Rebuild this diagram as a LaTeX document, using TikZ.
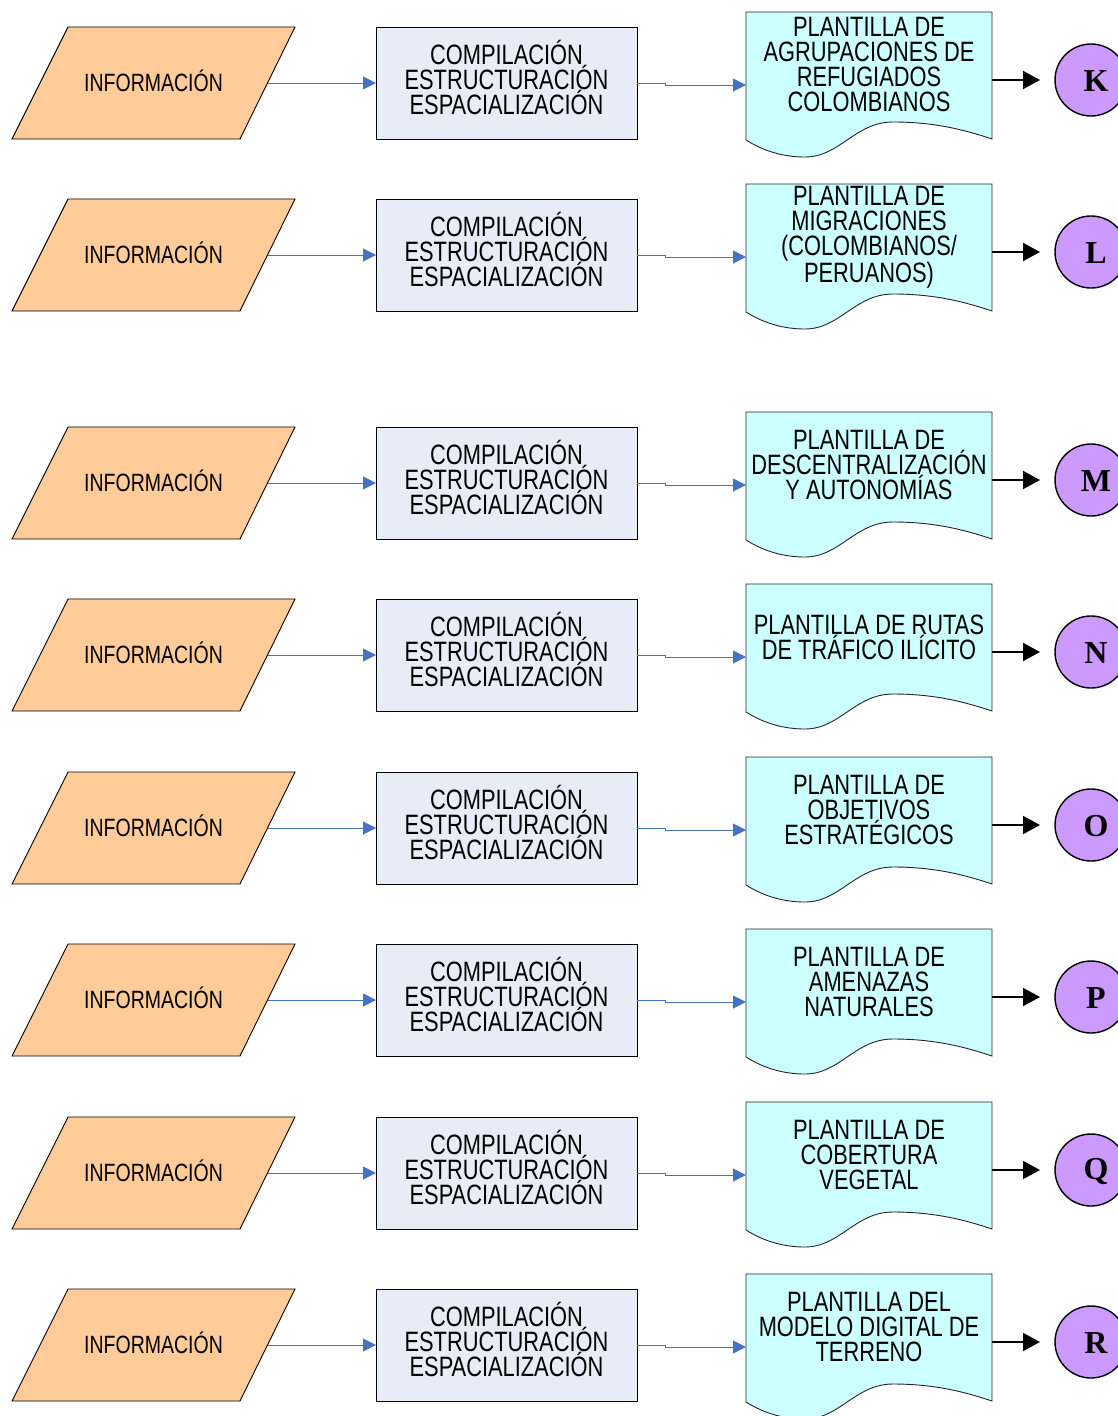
\documentclass[tikz,border=0pt]{standalone}
\usepackage{fontspec}
\setmainfont{Liberation Sans}
\newfontfamily\nar{Liberation Sans}[FakeStretch=0.78]
\newfontfamily\serb{Liberation Serif}
\usetikzlibrary{arrows.meta,calc}
\definecolor{paraF}{RGB}{255,204,153}
\definecolor{rectF}{RGB}{231,236,247}
\definecolor{docF}{RGB}{204,255,255}
\definecolor{circF}{RGB}{204,153,255}
\definecolor{flow}{RGB}{68,114,196}
\tikzset{
  paraline/.style={draw=black, line width=0.9, fill=paraF},
  paratext/.style={inner sep=0, font=\nar\fontsize{25}{25}\selectfont},
  procbox/.style={rectangle, minimum width=261, minimum height=112, inner sep=0,
    outer sep=0, draw=black, line width=0.9, fill=rectF},
  proctext/.style={align=center, inner sep=0, font=\nar\fontsize{28}{25}\selectfont},
  docbox/.style={rectangle, minimum width=246, minimum height=128, inner sep=0, outer sep=0},
  docline/.style={draw=black!85, line width=0.9, fill=docF},
  doctext/.style={align=center, inner sep=0, font=\nar\fontsize{28}{25}\selectfont},
  circ/.style={circle, minimum size=72, inner sep=0, outer sep=0, draw=black, line width=1.4, fill=circF},
  lett/.style={inner sep=0, font=\serb\bfseries\fontsize{32}{32}\selectfont},
  flowarrow/.style={draw=flow, line width=1, -{Triangle[length=13pt,width=13pt]}},
  outarrow/.style={draw=black, line width=2, -{Triangle[length=17pt,width=18pt]}},
}
\begin{document}
\begin{tikzpicture}[x=1pt,y=-1pt]
\useasboundingbox (0,0) rectangle (1118,1416);
\clip (0,0) rectangle (1118,1416);
\fill[white] (0,0) rectangle (1118,1416);
\foreach \c/\t/\l in {
  83/{PLANTILLA DE\\AGRUPACIONES DE\\REFUGIADOS\\COLOMBIANOS}/K,
  255/{PLANTILLA DE\\MIGRACIONES\\(COLOMBIANOS/\\PERUANOS)}/L,
  483/{PLANTILLA DE\\DESCENTRALIZACIÓN\\Y AUTONOMÍAS}/M,
  655/{PLANTILLA DE RUTAS\\DE TRÁFICO ILÍCITO}/N,
  828/{PLANTILLA DE\\OBJETIVOS\\ESTRATÉGICOS}/O,
  1000/{PLANTILLA DE\\AMENAZAS\\NATURALES}/P,
  1173/{PLANTILLA DE\\COBERTURA\\VEGETAL}/Q,
  1345/{PLANTILLA DEL\\MODELO DIGITAL DE\\TERRENO}/R}{
  % input parallelogram
  \path[paraline] (68,\c-56) -- (295,\c-56) -- (240,\c+56) -- (12,\c+56) -- cycle;
  \node[paratext] (p\l) at (153.5,\c-2) {INFORMACIÓN};
  \coordinate (pe\l) at (267.5,\c);
  % process box
  \node[procbox] (r\l) at (506.5,\c) {};
  \node[proctext] (rt\l) at (506.5,\c-6) {COMPILACIÓN\\ESTRUCTURACIÓN\\ESPACIALIZACIÓN};
  % document
  \node[docbox] (d\l) at (869,\c-7) {};
  \path[docline] (746,\c-71) -- (992,\c-71) -- (992,\c+56)
    .. controls (965,\c+47) and (935,\c+39) .. (893,\c+39)
    .. controls (855,\c+39) and (840,\c+74) .. (805,\c+74)
    .. controls (785,\c+74) and (765,\c+69) .. (746,\c+57) -- cycle;
  \node[doctext] (t\l) at (869,\c-18) {\t};
  % connector circle
  \node[circ] (c\l) at (1091,\c-3) {};
  \node[lett] (l\l) at (1096,\c-2) {\l};
  % connectors
  \draw[flowarrow] (pe\l) -- (r\l.west);
  \draw[flowarrow] (r\l.east) -- ++(28,0) -- ++(0,2) -- ($(d\l.west)+(0,9)$);
  \draw[outarrow] ($(d\l.east)+(0,4)$) -- ($(c\l.west)+(-15,0)$);
}
\end{tikzpicture}
\end{document}
